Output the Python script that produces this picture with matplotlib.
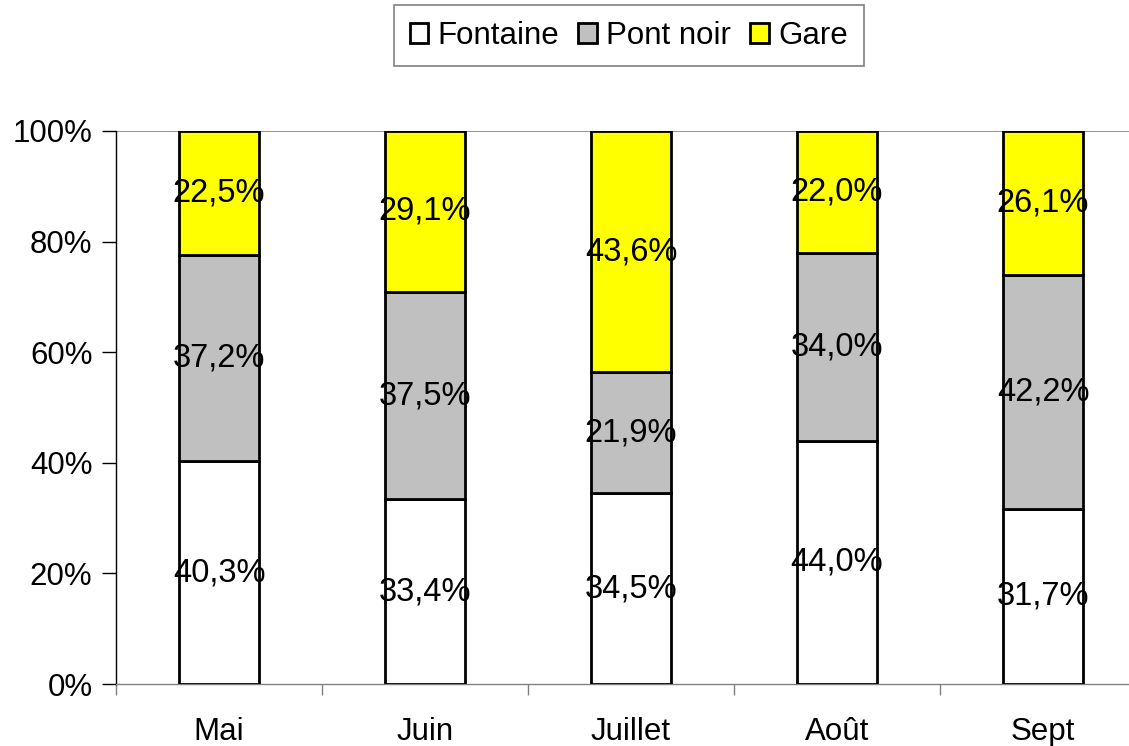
import numpy as np
import matplotlib.pyplot as plt

plt.rcParams['font.family'] = ['Liberation Sans', 'DejaVu Sans']

# données
mois = ["Mai", "Juin", "Juillet", "Août", "Sept"]
fontaine = [40.3, 33.4, 34.5, 44.0, 31.7]
pont_noir = [37.2, 37.5, 21.9, 34.0, 42.2]
gare = [22.5, 29.1, 43.6, 22.0, 26.1]

series = [("Fontaine", fontaine, "#FFFFFF"),
          ("Pont noir", pont_noir, "#C0C0C0"),
          ("Gare", gare, "#FFFF00")]

fig = plt.figure(figsize=(11.29, 7.46), dpi=100)
ax = fig.add_axes([116 / 1129, 0.0831, 1030 / 1129, 0.7413])

x = np.arange(len(mois))
bas = np.zeros(len(mois))
for nom, vals, couleur in series:
    vals = np.array(vals)
    ax.bar(x, vals, bottom=bas, width=0.39, color=couleur,
           edgecolor="black", linewidth=2, label=nom, zorder=3)
    for xi, b, v in zip(x, bas, vals):
        ax.text(xi, b + v / 2, f"{v:.1f}%".replace(".", ","),
                ha="center", va="center", fontsize=23.5, zorder=4)
    bas += vals

ax.axhline(100, color="#808080", linewidth=1.2, zorder=1)

ax.set_xlim(-0.5, len(mois) - 0.5)
ax.set_ylim(0, 100)
ax.set_yticks(np.arange(0, 101, 20))
ax.set_yticklabels([f"{v}%" for v in range(0, 101, 20)], fontsize=22.5)
ax.set_xticks(x)
ax.set_xticklabels(mois, fontsize=22.5)
ax.set_xticks(np.arange(-0.5, len(mois)), minor=True)
ax.tick_params(axis="x", which="major", length=0, pad=24)
ax.tick_params(axis="x", which="minor", length=8, width=1, color="#808080")
ax.tick_params(axis="y", length=10, width=1, pad=7)

for s in ["top", "right"]:
    ax.spines[s].set_visible(False)
ax.spines["left"].set_linewidth(1)
ax.spines["bottom"].set_linewidth(1)
ax.spines["bottom"].set_color("#808080")

leg = fig.legend(loc="upper center", bbox_to_anchor=(0.557, 0.993), ncol=3,
                 fontsize=22.5, frameon=True, fancybox=False, edgecolor="#606060",
                 handlelength=0.6, handleheight=0.6, handletextpad=0.3,
                 columnspacing=0.6, borderpad=0.5, borderaxespad=0)
leg.get_frame().set_linewidth(1.2)

fig.savefig("out.png", dpi=100)
